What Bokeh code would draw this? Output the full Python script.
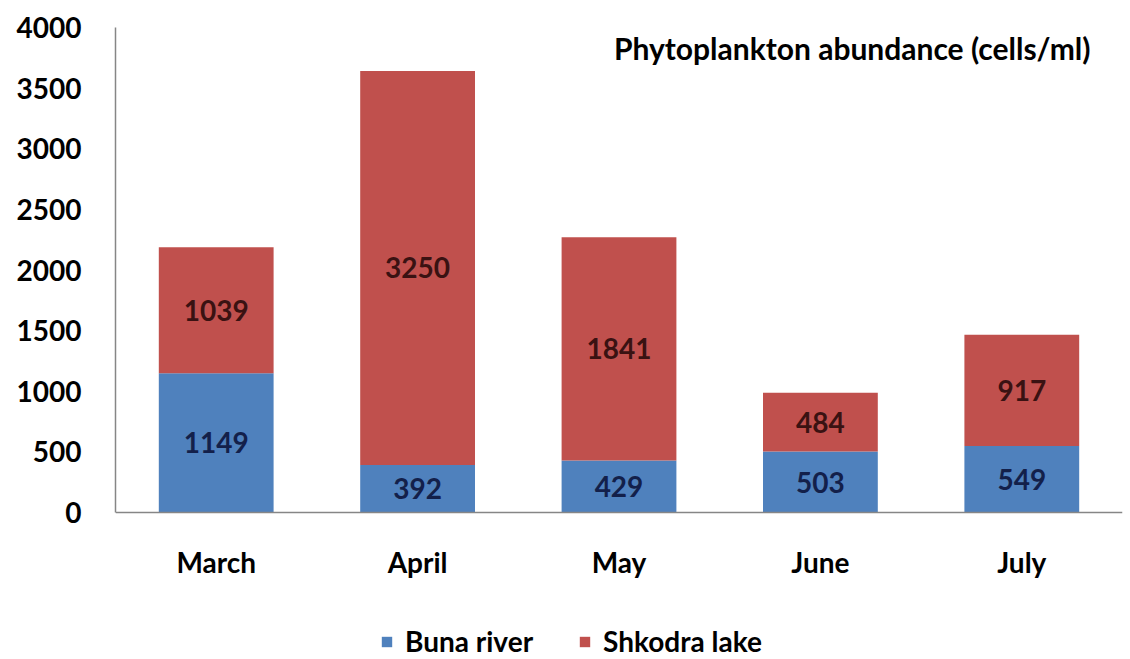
from bokeh.plotting import figure
from bokeh.models import (ColumnDataSource, LabelSet, Label, Legend, LegendItem,
                          FactorRange, Range1d, FixedTicker, Span)
from bokeh.core.properties import value
from bokeh.embed import file_html
from bokeh.resources import INLINE

months = ["March", "April", "May", "June", "July"]
buna_river = [1149, 392, 429, 503, 549]
shkodra_lake = [1039, 3250, 1841, 484, 917]
y_ticks = [0, 500, 1000, 1500, 2000, 2500, 3000, 3500, 4000]

BLUE = "#4F81BD"
RED = "#C0504D"
AXIS = "#868686"
FONT = "Lato"

src = ColumnDataSource(dict(
    month=months,
    base=[0] * len(months),
    buna=buna_river,
    shkodra=shkodra_lake,
    buna_mid=[b / 2 for b in buna_river],
    shkodra_mid=[b + s / 2 for b, s in zip(buna_river, shkodra_lake)],
    buna_txt=[str(v) for v in buna_river],
    shkodra_txt=[str(v) for v in shkodra_lake],
))

# frame runs to the bottom of the canvas so the legend can sit under the month labels
p = figure(
    width=1130, height=659,
    x_range=FactorRange(factors=months, range_padding=0),
    y_range=Range1d(-1212, 4000),
    output_backend="svg", toolbar_location=None,
    min_border_left=115, min_border_right=8, min_border_top=27, min_border_bottom=0,
)
p.outline_line_color = None
p.xgrid.grid_line_color = None
p.ygrid.grid_line_color = None
p.background_fill_color = "white"
p.border_fill_color = "white"
p.xaxis.visible = False

renderers = p.vbar_stack(["buna", "shkodra"], x="month", width=0.57, source=src,
                         color=[BLUE, RED], line_color=None)

# category axis line at zero
p.add_layout(Span(location=0, dimension="width", line_color=AXIS, line_width=1.5))

# value axis
yax = p.yaxis[0]
yax.ticker = FixedTicker(ticks=y_ticks)
yax.bounds = (0, 4000)
yax.axis_line_color = AXIS
yax.axis_line_width = 1.5
yax.major_tick_line_color = None
yax.minor_tick_line_color = None
yax.major_label_text_font = FONT
yax.major_label_text_font_size = "28px"
yax.major_label_text_font_style = "bold"
yax.major_label_text_color = "black"
yax.major_label_standoff = 28

# month labels under the axis
p.add_layout(LabelSet(x="month", y="base", text="month", source=src, y_offset=-60,
                      text_align="center", text_baseline="alphabetic",
                      text_font=value(FONT), text_font_style="bold", text_font_size="28px",
                      text_color="black"))

# segment values
p.add_layout(LabelSet(x="month", y="buna_mid", text="buna_txt", source=src,
                      text_align="center", text_baseline="middle",
                      text_font=value(FONT), text_font_style="bold", text_font_size="28px",
                      text_color="#13204a"))
p.add_layout(LabelSet(x="month", y="shkodra_mid", text="shkodra_txt", source=src,
                      text_align="center", text_baseline="middle",
                      text_font=value(FONT), text_font_style="bold", text_font_size="28px",
                      text_color="#3a1212"))

p.add_layout(Label(x=5, y=3835, x_offset=-32, text="Phytoplankton abundance (cells/ml)",
                   text_align="right", text_baseline="alphabetic",
                   text_font=FONT, text_font_size="30px", text_font_style="bold",
                   text_color="black"))

legend = Legend(
    items=[LegendItem(label="Buna river", renderers=[renderers[0]]),
           LegendItem(label="Shkodra lake", renderers=[renderers[1]])],
    orientation="horizontal", location=(265, 1),
    glyph_width=13, glyph_height=13, label_standoff=12, spacing=45,
    padding=0, margin=0, border_line_color=None, background_fill_alpha=0,
    label_text_font=FONT, label_text_font_size="28px", label_text_font_style="bold",
    label_text_color="black", label_height=34,
)
p.add_layout(legend)

open("out.html", "w").write(file_html(p, INLINE))
